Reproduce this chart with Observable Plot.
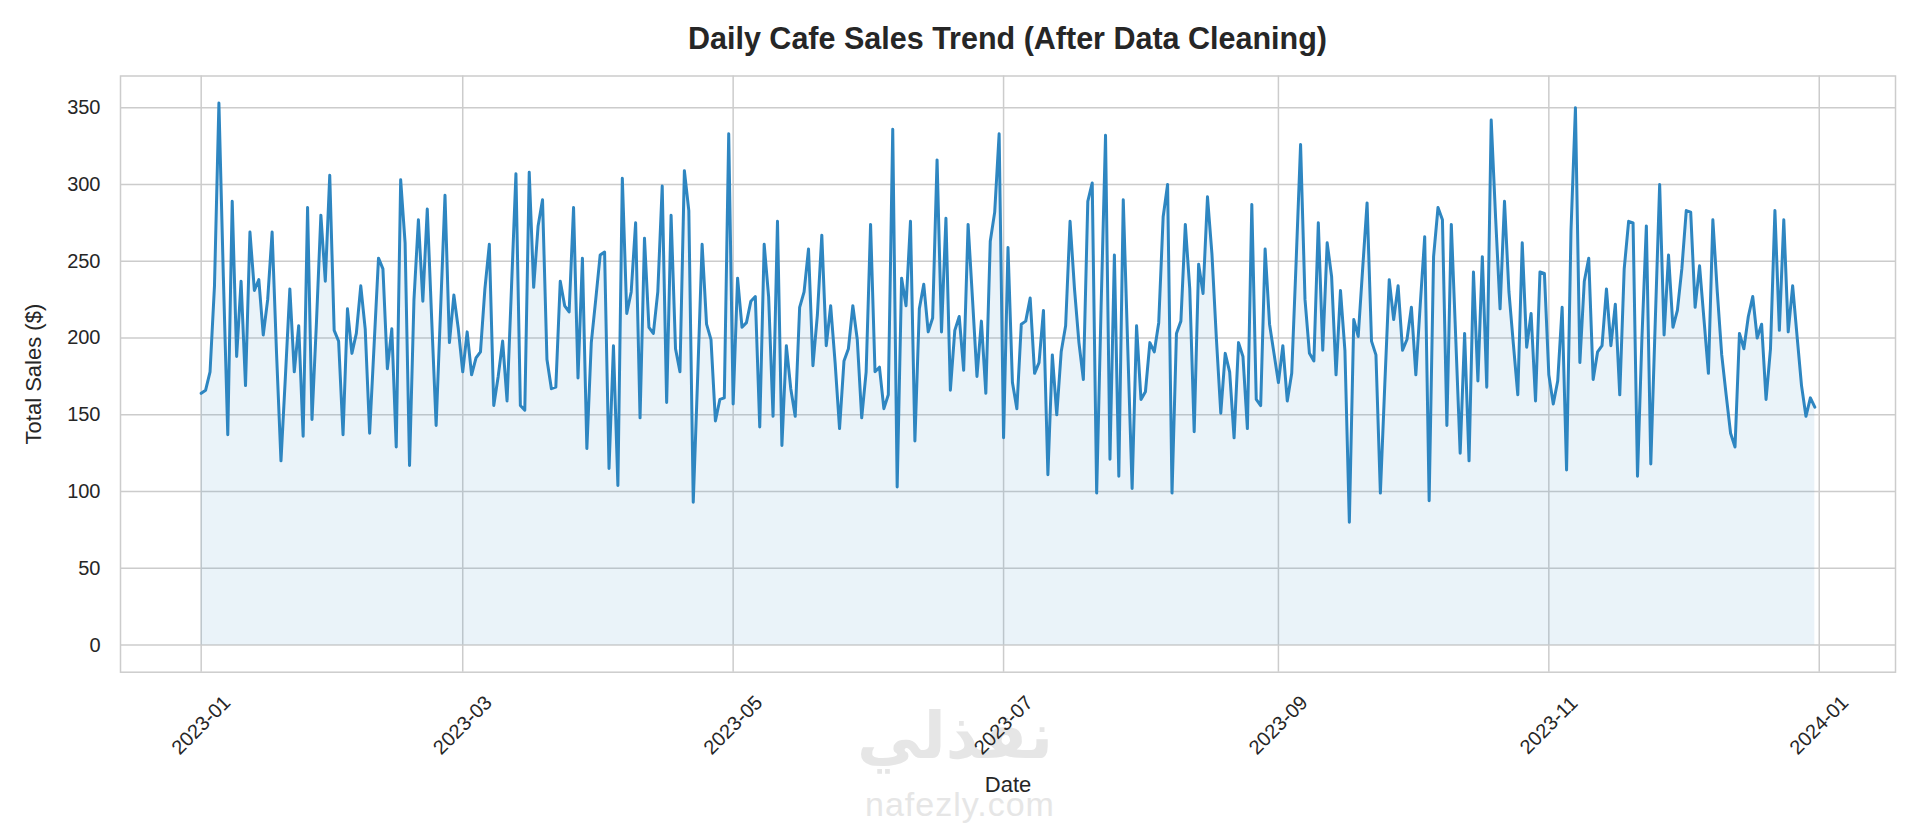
<!DOCTYPE html>
<html>
<head>
<meta charset="utf-8">
<script src="https://cdn.jsdelivr.net/npm/d3@7"></script>
<script src="https://cdn.jsdelivr.net/npm/@observablehq/plot@0.6"></script>
<style>
  html, body { margin: 0; padding: 0; background: #ffffff; width: 1920px; height: 823px; overflow: hidden; }
  #wrap { position: relative; width: 1920px; height: 823px; }
  #title { position: absolute; left: 120px; top: 0; width: 1775px; height: 76px; line-height: 76px; text-align: center;
           font-family: "Liberation Sans", Arial, sans-serif; font-weight: bold; font-size: 30.5px; color: #262626; }
  #wm1 { position: absolute; left: 755px; top: 700px; width: 400px; text-align: center; font-family: "DejaVu Sans", sans-serif;
         font-weight: bold; font-size: 64px; color: #e6e6e6; line-height: 72px; height: 72px; }
  #wm2 { position: absolute; left: 760px; top: 786px; width: 400px; text-align: center; font-family: "Liberation Sans", Arial, sans-serif;
         font-size: 34px; color: #e6e6e6; line-height: 36px; height: 36px; letter-spacing: 1px; }
  #chart { position: absolute; left: 0; top: 60px; }
</style>
</head>
<body>
<div id="wrap">
  <div id="wm1">نفذلي</div>
  <div id="wm2">nafezly.com</div>
  <div id="title">Daily Cafe Sales Trend (After Data Cleaning)</div>
  <div id="chart"></div>
</div>
<script>
// Daily total sales for 2023 (one value per day, starting 2023-01-01)
const startDate = "2023-01-01";
const sales = [
  164,166,178,234,353,240,137,289,188,237,169,269,231,238,202,225,269,190,120,175,
  232,178,208,136,285,147,210,280,237,306,205,198,137,219,190,203,234,206,138,195,
  252,245,180,206,129,303,262,117,225,277,224,284,212,143,218,293,197,228,206,178,
  204,176,187,191,232,261,156,175,198,159,233,307,156,153,308,233,273,290,186,167,
  168,237,221,217,285,174,252,128,197,225,254,256,115,195,104,304,216,230,275,148,
  265,207,203,230,299,158,280,193,178,309,283,93,175,261,209,199,146,160,161,333,
  157,239,207,210,224,227,142,261,227,149,276,130,195,167,149,220,230,258,182,215,
  267,195,221,184,141,185,193,221,199,148,178,274,178,181,154,163,336,103,239,221,
  276,133,219,235,204,213,316,204,278,166,205,214,179,274,225,175,211,164,263,282,
  333,135,259,171,154,209,211,226,177,184,218,111,189,150,191,208,276,232,197,173,
  289,301,99,220,332,121,254,110,290,195,102,208,160,165,197,191,210,279,300,99,
  203,211,274,232,139,248,229,292,255,200,151,190,178,135,197,188,141,287,160,156,
  258,209,190,171,195,159,177,250,326,225,190,185,275,192,262,240,176,231,192,80,
  212,201,245,288,198,189,99,170,238,212,234,192,199,220,176,222,266,94,253,285,
  277,143,274,200,125,203,120,243,172,253,168,342,278,219,289,230,196,163,262,194,
  216,159,243,242,176,157,172,220,114,270,350,184,237,252,173,191,195,232,195,222,
  163,245,276,275,110,200,273,118,210,300,202,254,207,218,245,283,282,220,247,212,
  177,277,230,189,163,138,129,203,193,214,227,200,209,160,193,283,205,277,204,234,
  201,169,149,161,155
];
const xTickLabels = ["2023-01","2023-03","2023-05","2023-07","2023-09","2023-11","2024-01"];
const yTicks = [0, 50, 100, 150, 200, 250, 300, 350];

const day = 864e5;
const t0 = new Date(startDate + "T00:00:00Z");
const data = sales.map((v, i) => ({date: new Date(t0.getTime() + i * day), sales: v}));
const xTicks = xTickLabels.map(s => new Date(s + "-01T00:00:00Z"));

// matplotlib-style 5% margins
const span = (data.length - 1) * day;
const xDomain = [new Date(t0.getTime() - 0.05 * span), new Date(t0.getTime() + span + 0.05 * span)];
const yMax = d3.max(sales);
const yDomain = [-0.05 * yMax, yMax * 1.05];

const fmt = d3.utcFormat("%Y-%m");
const color = "#2e86c1";

const plot = Plot.plot({
  width: 1920,
  height: 763,
  marginLeft: 120,
  marginRight: 25,
  marginTop: 15.5,
  marginBottom: 151.3,
  style: {background: "transparent", fontFamily: "'Liberation Sans', Arial, sans-serif", fontSize: "20px", color: "#262626"},
  x: {type: "utc", domain: xDomain},
  y: {domain: yDomain},
  marks: [
    Plot.gridX(xTicks, {stroke: "#cccccc", strokeOpacity: 1, strokeWidth: 1.5}),
    Plot.gridY(yTicks, {stroke: "#cccccc", strokeOpacity: 1, strokeWidth: 1.5}),
    Plot.areaY(data, {x: "date", y: "sales", fill: color, fillOpacity: 0.1}),
    Plot.lineY(data, {x: "date", y: "sales", stroke: color, strokeWidth: 3}),
    Plot.frame({stroke: "#cccccc", strokeWidth: 1.5}),
    Plot.axisY({ticks: yTicks, tickSize: 0, tickPadding: 20, label: null, fontSize: 20}),
    Plot.axisX({ticks: xTicks, tickFormat: fmt, tickSize: 0, tickPadding: 53, tickRotate: -45,
                textAnchor: "middle", lineAnchor: "middle", label: null, fontSize: 20}),
    Plot.text(["Total Sales ($)"], {frameAnchor: "left", dx: -87, rotate: -90, textAnchor: "middle", lineAnchor: "middle", fontSize: 22}),
    Plot.text(["Date"], {frameAnchor: "bottom", dy: 113, textAnchor: "middle", lineAnchor: "middle", fontSize: 22})
  ]
});
document.getElementById("chart").appendChild(plot);
</script>
</body>
</html>
